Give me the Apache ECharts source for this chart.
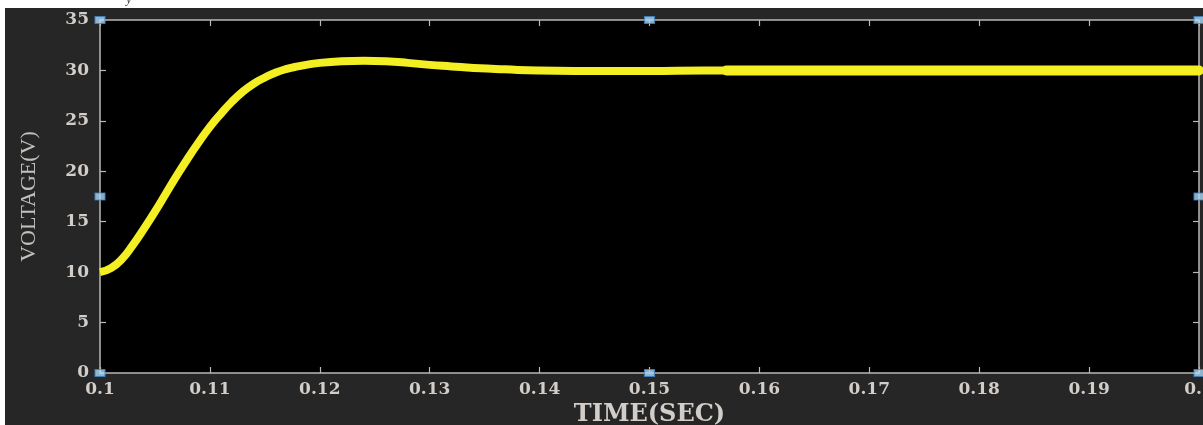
<!DOCTYPE html>
<html>
<head>
<meta charset="utf-8">
<script src="https://cdn.jsdelivr.net/npm/echarts@6/dist/echarts.min.js"></script>
<style>
html,body{margin:0;padding:0;background:#fff;}
#c{width:1203px;height:425px;}
</style>
</head>
<body>
<div id="c"></div>
<script>
// ---- data ----
const timeSec = [0.100,0.101,0.102,0.103,0.104,0.105,0.106,0.107,0.108,0.109,
  0.110,0.111,0.112,0.113,0.114,0.115,0.116,0.117,0.118,0.119,
  0.120,0.122,0.124,0.126,0.128,0.130,0.132,0.134,0.136,0.138,
  0.140,0.145,0.150,0.155,0.157,0.160,0.170,0.180,0.190,0.200];
const voltage = [10.0,10.4,11.3,12.7,14.3,16.0,17.8,19.6,21.3,22.9,
  24.4,25.7,26.9,27.9,28.7,29.3,29.8,30.15,30.4,30.6,
  30.75,30.9,30.95,30.9,30.75,30.55,30.4,30.25,30.15,30.05,
  30.0,29.95,29.95,30.0,30.0,30.0,30.0,30.0,30.0,30.0];
const rippleStart = 0.157;
const xTickLabels = ['0.1','0.11','0.12','0.13','0.14','0.15','0.16','0.17','0.18','0.19','0.2'];
const yTickLabels = ['0','5','10','15','20','25','30','35'];
const xMin = 0.1, xMax = 0.2, xStep = 0.01;
const yMin = 0, yMax = 35, yStep = 5;
const handleX = [0.1, 0.15, 0.2];
const handleY = [0, 17.5, 35];

// ---- build ----
const mainData = timeSec.map((t,i)=>[t, voltage[i]]);
const rippleData = mainData.filter(p => p[0] >= rippleStart - 1e-9);
const handles = [];
handleX.forEach(x => handleY.forEach(y => {
  if (!(x === 0.15 && y === 17.5)) handles.push([x, y]);
}));

const axisColor = '#b8b8b8';
const labelColor = '#d2cdc8';
const tickFont = {color: labelColor, fontFamily: 'DejaVu Serif', fontWeight: 'bold', fontSize: 17};

function xLab(v){ const i = Math.round((v - xMin)/xStep); return xTickLabels[i] ?? ''; }
function yLab(v){ const i = Math.round((v - yMin)/yStep); return yTickLabels[i] ?? ''; }

const chart = echarts.init(document.getElementById('c'), null, {renderer:'canvas'});
chart.setOption({
  backgroundColor: '#ffffff',
  animation: false,
  graphic: [
    {type:'rect', z:-10, shape:{x:5, y:8, width:1198, height:417}, style:{fill:'#262626'}},
    {type:'text', z:-5, x:126, y:-7, style:{text:'y', font:'italic 13px "Liberation Serif"', fill:'#444'}}
  ],
  grid: {left:100, top:20, width:1099, height:353, show:true, backgroundColor:'#000000', borderWidth:0,
         containLabel:false, outerBoundsMode:'none'},
  xAxis: [
    {type:'value', position:'bottom', min:xMin, max:xMax, interval:xStep,
     name:'TIME(SEC)', nameLocation:'middle', nameGap:29,
     nameTextStyle:{color:labelColor, fontFamily:'DejaVu Serif', fontWeight:'bold', fontSize:24},
     axisLine:{show:true, onZero:false, lineStyle:{color:axisColor, width:1.5}},
     axisTick:{show:true, inside:true, length:6, lineStyle:{color:axisColor, width:1.2}},
     axisLabel:Object.assign({margin:8, formatter:xLab, showMaxLabel:true, hideOverlap:false}, tickFont),
     splitLine:{show:false}},
    {type:'value', position:'top', min:xMin, max:xMax, interval:xStep,
     axisLine:{show:true, onZero:false, lineStyle:{color:axisColor, width:1.5}},
     axisTick:{show:true, inside:true, length:6, lineStyle:{color:axisColor, width:1.2}},
     axisLabel:{show:false}, splitLine:{show:false}}
  ],
  yAxis: [
    {type:'value', position:'left', min:yMin, max:yMax, interval:yStep,
     name:'VOLTAGE(V)', nameLocation:'middle', nameGap:60,
     nameTextStyle:{color:'#c4c1bd', fontFamily:'Liberation Serif', fontSize:22},
     axisLine:{show:true, onZero:false, lineStyle:{color:axisColor, width:1.5}},
     axisTick:{show:true, inside:true, length:6, lineStyle:{color:axisColor, width:1.2}},
     axisLabel:Object.assign({margin:11, formatter:yLab}, tickFont),
     splitLine:{show:false}},
    {type:'value', position:'right', min:yMin, max:yMax, interval:yStep,
     axisLine:{show:true, onZero:false, lineStyle:{color:axisColor, width:1.5}},
     axisTick:{show:true, inside:true, length:6, lineStyle:{color:axisColor, width:1.2}},
     axisLabel:{show:false}, splitLine:{show:false}}
  ],
  series: [
    {type:'line', data:mainData, smooth:0.5, showSymbol:false, symbol:'none',
     lineStyle:{color:'#f3ef22', width:8}, z:3},
    {type:'line', data:rippleData, smooth:false, symbol:'none',
     lineStyle:{color:'#f3ef22', width:10, cap:'round'}, z:3},
    {type:'scatter', data:handles, symbol:'rect', symbolSize:[10,7], clip:false,
     itemStyle:{color:'#aad8f6', borderColor:'#3f83c4', borderWidth:1}, z:10, silent:true}
  ]
});
</script>
</body>
</html>
